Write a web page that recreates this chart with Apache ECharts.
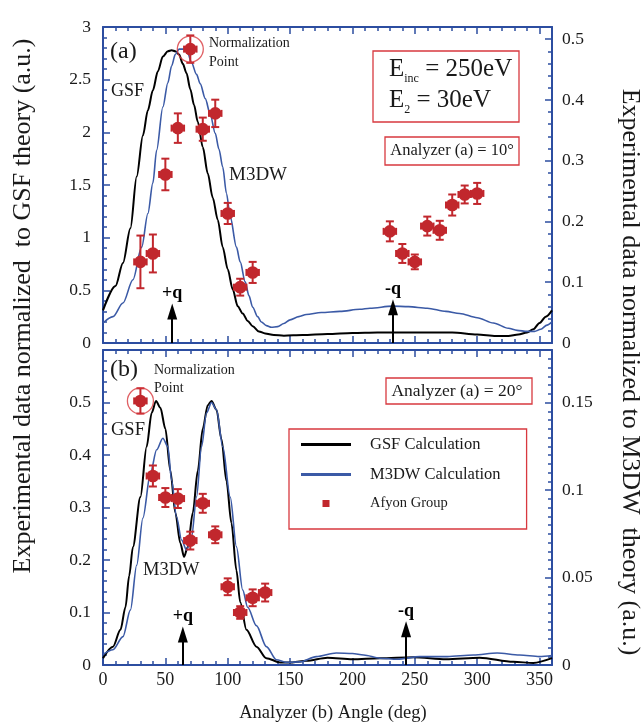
<!DOCTYPE html>
<html>
<head>
<meta charset="utf-8">
<script src="https://cdn.jsdelivr.net/npm/echarts@6.0.0/dist/echarts.min.js"></script>
<style>
html, body { margin: 0; padding: 0; background: #fff; }
#chart { width: 643px; height: 723px; }
</style>
</head>
<body>
<div id="chart"></div>
<script>
// ---------- panel (a): analyzer (a) = 10 deg ----------
var gsfAngleA = [0, 10, 16, 22, 27, 32, 36, 40, 44, 48, 52, 55, 58, 61, 64, 67, 70, 73, 76, 80, 84, 88, 92, 96, 100, 104, 108, 112, 116, 120, 125, 130, 137, 145, 160, 180, 200, 220, 250, 280, 300, 315, 325, 333, 340, 345, 350, 355, 360]
var gsfA = [0.31, 0.54, 0.76, 1.09, 1.58, 1.97, 2.21, 2.40, 2.58, 2.72, 2.77, 2.78, 2.77, 2.74, 2.65, 2.56, 2.41, 2.26, 2.10, 1.86, 1.61, 1.38, 1.17, 0.91, 0.70, 0.51, 0.35, 0.28, 0.21, 0.16, 0.11, 0.09, 0.075, 0.07, 0.075, 0.085, 0.095, 0.10, 0.10, 0.10, 0.08, 0.066, 0.066, 0.08, 0.10, 0.13, 0.19, 0.25, 0.31]
var m3dwAngleA = [0, 8, 16, 24, 31, 36, 40, 43, 48, 52, 55, 58, 61, 65, 68, 71, 75, 78, 82, 86, 90, 93, 96, 99, 102, 107, 110, 114, 117, 120, 124, 127, 131, 135, 140, 145, 150, 157, 163, 175, 190, 206, 214, 232, 245, 260, 275, 286, 300, 313, 325, 332, 340, 346, 351, 356, 360]
var m3dwA = [0.19, 0.25, 0.38, 0.60, 0.91, 1.23, 1.52, 1.83, 2.24, 2.47, 2.63, 2.74, 2.79, 2.79, 2.75, 2.66, 2.55, 2.46, 2.32, 2.17, 1.99, 1.84, 1.67, 1.42, 1.20, 0.91, 0.77, 0.58, 0.45, 0.34, 0.25, 0.20, 0.165, 0.15, 0.155, 0.185, 0.22, 0.25, 0.27, 0.29, 0.30, 0.32, 0.33, 0.35, 0.345, 0.33, 0.30, 0.28, 0.24, 0.19, 0.14, 0.12, 0.11, 0.11, 0.13, 0.17, 0.20]
var angleA = [30, 40, 50, 60, 70, 80, 90, 100, 110, 120, 230, 240, 250, 260, 270, 280, 290, 300]
var valueA = [0.77, 0.85, 1.60, 2.04, 2.79, 2.03, 2.18, 1.23, 0.53, 0.67, 1.06, 0.85, 0.77, 1.11, 1.07, 1.31, 1.41, 1.42]
var errorA = [0.25, 0.18, 0.15, 0.14, 0.13, 0.11, 0.13, 0.10, 0.08, 0.10, 0.095, 0.09, 0.07, 0.09, 0.09, 0.10, 0.085, 0.10]
var normIndexA = 4
var qAngleA = [55.5, 232.5]
var qTipA = [0.30, 0.34]

// ---------- panel (b): analyzer (a) = 20 deg ----------
var gsfAngleB = [0, 8, 14, 18, 21, 24, 30, 35, 39, 42.5, 46, 50, 54, 58, 62, 65, 68, 72, 76, 80, 84, 87, 91, 95, 99, 103, 107, 110, 115, 123, 131, 142, 152, 163, 180, 200, 222, 249, 275, 302, 329, 345, 360]
var gsfB = [0.013, 0.035, 0.067, 0.11, 0.17, 0.225, 0.32, 0.416, 0.48, 0.503, 0.49, 0.45, 0.37, 0.29, 0.232, 0.206, 0.225, 0.29, 0.37, 0.45, 0.495, 0.503, 0.486, 0.43, 0.35, 0.27, 0.18, 0.12, 0.067, 0.035, 0.013, 0.005, 0.005, 0.008, 0.014, 0.011, 0.013, 0.015, 0.011, 0.014, 0.006, 0.004, 0.013]
var m3dwAngleB = [0, 8, 16, 22, 27, 32, 38, 43, 48, 52, 55, 59, 63, 67, 71, 75, 79, 83, 87, 91, 96, 102, 107, 112, 116, 123, 131, 139, 147, 158, 171, 187, 200, 209, 222, 236, 254, 276, 297, 316, 334, 350, 360]
var m3dwB = [0.02, 0.029, 0.054, 0.105, 0.19, 0.28, 0.365, 0.41, 0.432, 0.416, 0.352, 0.282, 0.238, 0.219, 0.244, 0.32, 0.416, 0.48, 0.50, 0.486, 0.416, 0.32, 0.225, 0.143, 0.11, 0.075, 0.035, 0.01, 0.005, 0.006, 0.016, 0.023, 0.022, 0.019, 0.013, 0.011, 0.016, 0.016, 0.019, 0.023, 0.019, 0.016, 0.018]
var angleB = [30, 40, 50, 60, 70, 80, 90, 100, 110, 120, 130]
var valueB = [0.503, 0.36, 0.319, 0.317, 0.237, 0.308, 0.248, 0.149, 0.10, 0.128, 0.138]
var errorB = [0.024, 0.02, 0.018, 0.018, 0.017, 0.018, 0.016, 0.016, 0.012, 0.016, 0.017]
var normIndexB = 0
var qAngleB = [64, 243]
var qTipB = [0.058, 0.068]

var qLabels = ['+q', '-q']
var angleError = 5

// =============================================

var FONT = 'Liberation Serif'
var INK = '#1a1a1a'
var AX = '#2c4da0'
var BLUE = '#3b5aa6'
var RED = '#c1272d'
var BOX = '#d8393f'

function pairs(xs, ys) {
    return xs.map(function (x, i) { return [x, ys[i]] })
}

function triples(xs, ys, es) {
    return xs.map(function (x, i) { return [x, ys[i], es[i]] })
}

// one frame edge = a major axis (labels, long ticks) + a minor axis (short ticks)
function edge(grid, pos, min, max, major, minor, label) {
    var main = {
        type: 'value', gridIndex: grid, position: pos, min: min, max: max, interval: major,
        splitLine: { show: false },
        axisLine: { show: true, onZero: false, lineStyle: { color: AX, width: 2 } },
        axisTick: { show: true, inside: true, length: 7, lineStyle: { color: AX, width: 1.5 } },
        axisLabel: label ? Object.assign({ fontFamily: FONT, fontSize: 17.5, color: INK }, label) : { show: false }
    }
    var fine = {
        type: 'value', gridIndex: grid, position: pos, min: min, max: max, interval: minor,
        splitLine: { show: false },
        axisLine: { show: false, onZero: false },
        axisTick: { show: true, inside: true, length: 4, lineStyle: { color: AX, width: 1.5 } },
        axisLabel: { show: false }
    }
    return [main, fine]
}

function errorBar(params, api) {
    var x = api.value(0), y = api.value(1), e = api.value(2)
    var c = api.coord([x, y])
    var hi = api.coord([x, y + e])
    var lo = api.coord([x, y - e])
    var l = api.coord([x - angleError, y])
    var r = api.coord([x + angleError, y])
    var st = { stroke: RED, lineWidth: 2 }
    return {
        type: 'group',
        children: [
            { type: 'line', shape: { x1: c[0], y1: hi[1], x2: c[0], y2: lo[1] }, style: st },
            { type: 'line', shape: { x1: c[0] - 4, y1: hi[1], x2: c[0] + 4, y2: hi[1] }, style: st },
            { type: 'line', shape: { x1: c[0] - 4, y1: lo[1], x2: c[0] + 4, y2: lo[1] }, style: st },
            { type: 'line', shape: { x1: l[0], y1: c[1], x2: r[0], y2: c[1] }, style: st },
            { type: 'line', shape: { x1: l[0], y1: c[1] - 3.5, x2: l[0], y2: c[1] + 3.5 }, style: st },
            { type: 'line', shape: { x1: r[0], y1: c[1] - 3.5, x2: r[0], y2: c[1] + 3.5 }, style: st },
            { type: 'circle', shape: { cx: c[0], cy: c[1], r: 6.3 }, style: { fill: RED } }
        ]
    }
}

function arrows(xs, tips) {
    return {
        silent: true,
        symbol: ['none', 'triangle'],
        lineStyle: { color: '#000', width: 2, type: 'solid' },
        label: { show: true, position: 'end', distance: 9, color: '#000', fontFamily: FONT, fontSize: 18, fontWeight: 'bold' },
        data: xs.map(function (x, i) {
            return [
                { coord: [x, 0] },
                { coord: [x, tips[i]], symbolSize: [10, 16], label: { formatter: qLabels[i] } }
            ]
        })
    }
}

function normCircle(xi, yi, ax, ay) {
    return {
        type: 'scatter', xAxisIndex: ax, yAxisIndex: ay, silent: true, z: 6,
        data: [[xi, yi]], symbol: 'circle', symbolSize: 26,
        itemStyle: { color: 'rgba(0,0,0,0)', borderColor: BOX, borderWidth: 1.3 }
    }
}

function txt(x, y, text, size, extra) {
    return {
        type: 'text', x: x, y: y, silent: true,
        style: Object.assign({
            text: text, fontFamily: FONT, fontSize: size, fill: INK,
            align: 'left', verticalAlign: 'middle', textAlign: 'left', textVerticalAlign: 'middle'
        }, extra || {})
    }
}

function box(x, y, w, h) {
    return { type: 'rect', silent: true, shape: { x: x, y: y, width: w, height: h }, style: { fill: 'none', stroke: BOX, lineWidth: 1.3 } }
}

var subRich = {
    m: { fontFamily: FONT, fontSize: 25, lineHeight: 30, fill: INK },
    s: { fontFamily: FONT, fontSize: 12, height: 10, verticalAlign: 'bottom', fill: INK }
}

var chartDom = document.getElementById('chart')
var myChart = echarts.init(chartDom)

var xAxes = [].concat(
    edge(0, 'bottom', 0, 360, 50, 10, null),
    edge(0, 'top', 0, 360, 50, 10, null),
    edge(1, 'bottom', 0, 360, 50, 10, { margin: 6, fontSize: 18, showMaxLabel: false }),
    edge(1, 'top', 0, 360, 50, 10, null)
)
var yAxes = [].concat(
    edge(0, 'left', 0, 3, 0.5, 0.1, { margin: 12 }),
    edge(0, 'right', 0, 0.52, 0.1, 0.02, { margin: 10, showMaxLabel: false }),
    edge(1, 'left', 0, 0.6, 0.1, 0.02, { margin: 12, showMaxLabel: false }),
    edge(1, 'right', 0, 0.18, 0.05, 0.005, { margin: 10, showMaxLabel: false })
)

var option = {
    animation: false,
    backgroundColor: '#fff',
    grid: [
        { left: 103, top: 27, width: 449, height: 316, outerBoundsMode: 'none' },
        { left: 103, top: 350, width: 449, height: 315, outerBoundsMode: 'none' }
    ],
    xAxis: xAxes,
    yAxis: yAxes,
    legend: {
        left: 289, top: 429, orient: 'vertical',
        padding: [7, 26, 18, 12],
        borderColor: BOX, borderWidth: 1.3,
        itemWidth: 50, itemHeight: 14, itemGap: 13,
        selectedMode: false,
        itemStyle: { borderWidth: 0 },
        textStyle: { fontFamily: FONT, color: INK, padding: [0, 0, 0, 14] },
        data: [
            { name: 'GSF Calculation', icon: 'path://M0 0H50V3H0Z', textStyle: { fontSize: 16.5 } },
            { name: 'M3DW Calculation', icon: 'path://M0 0H50V3H0Z', textStyle: { fontSize: 16.5 } },
            { name: 'Afyon Group', icon: 'path://M0 0M50 14M21.5 3.5H28.5V10.5H21.5Z', textStyle: { fontSize: 14.5 } }
        ]
    },
    series: [
        {
            name: 'GSF Calculation', type: 'line', xAxisIndex: 0, yAxisIndex: 0,
            data: pairs(gsfAngleA, gsfA), symbol: 'none', smooth: 0.3, smoothMonotone: 'x',
            lineStyle: { color: '#000', width: 2 }, itemStyle: { color: '#000' },
            markLine: arrows(qAngleA, qTipA)
        },
        {
            name: 'M3DW Calculation', type: 'line', xAxisIndex: 0, yAxisIndex: 0,
            data: pairs(m3dwAngleA, m3dwA), symbol: 'none', smooth: 0.3, smoothMonotone: 'x',
            lineStyle: { color: BLUE, width: 1.6 }, itemStyle: { color: BLUE }
        },
        {
            name: 'Afyon Group', type: 'custom', xAxisIndex: 0, yAxisIndex: 0, z: 5,
            data: triples(angleA, valueA, errorA), renderItem: errorBar, itemStyle: { color: RED }
        },
        normCircle(angleA[normIndexA], valueA[normIndexA], 0, 0),
        {
            name: 'GSF Calculation', type: 'line', xAxisIndex: 4, yAxisIndex: 4,
            data: pairs(gsfAngleB, gsfB), symbol: 'none', smooth: 0.3, smoothMonotone: 'x',
            lineStyle: { color: '#000', width: 2 }, itemStyle: { color: '#000' },
            markLine: arrows(qAngleB, qTipB)
        },
        {
            name: 'M3DW Calculation', type: 'line', xAxisIndex: 4, yAxisIndex: 4,
            data: pairs(m3dwAngleB, m3dwB), symbol: 'none', smooth: 0.3, smoothMonotone: 'x',
            lineStyle: { color: BLUE, width: 1.6 }, itemStyle: { color: BLUE }
        },
        {
            name: 'Afyon Group', type: 'custom', xAxisIndex: 4, yAxisIndex: 4, z: 5,
            data: triples(angleB, valueB, errorB), renderItem: errorBar, itemStyle: { color: RED }
        },
        normCircle(angleB[normIndexB], valueB[normIndexB], 4, 4)
    ],
    graphic: [
        // axis titles
        {
            type: 'text', x: 23.5, y: 306, rotation: Math.PI / 2, silent: true,
            style: { text: 'Experimental data normalized  to GSF theory (a.u.)', fontFamily: FONT, fontSize: 26, fill: INK, align: 'center', verticalAlign: 'middle', textAlign: 'center', textVerticalAlign: 'middle' }
        },
        {
            type: 'text', x: 630, y: 372, rotation: -Math.PI / 2, silent: true,
            style: { text: 'Experimental data normalized to M3DW  theory (a.u.)', fontFamily: FONT, fontSize: 26, fill: INK, align: 'center', verticalAlign: 'middle', textAlign: 'center', textVerticalAlign: 'middle' }
        },
        txt(333, 713, 'Analyzer (b) Angle (deg)', 18.5, { align: 'center', textAlign: 'center' }),
        // panel (a) notes
        txt(110, 52, '(a)', 24),
        txt(111, 91, 'GSF', 18),
        txt(229, 175, 'M3DW', 19),
        txt(209, 52.5, 'Normalization\nPoint', 14, { lineHeight: 19 }),
        box(373, 51, 146, 71),
        txt(389, 69, '{m|E}{s|inc}{m| = 250eV}', 25, { rich: subRich }),
        txt(389, 100, '{m|E}{s|2}{m| = 30eV}', 25, { rich: subRich }),
        box(385, 137, 134, 28),
        txt(452, 151, 'Analyzer (a) = 10°', 16.5, { align: 'center', textAlign: 'center' }),
        // panel (b) notes
        txt(110, 370, '(b)', 24),
        txt(154, 379, 'Normalization\nPoint', 14, { lineHeight: 18 }),
        txt(111, 430, 'GSF', 18.5),
        txt(143, 570, 'M3DW', 18.5),
        box(386, 378, 146, 26),
        txt(457, 391, 'Analyzer (a) = 20°', 17.5, { align: 'center', textAlign: 'center' })
    ]
}

myChart.setOption(option)
</script>
</body>
</html>
